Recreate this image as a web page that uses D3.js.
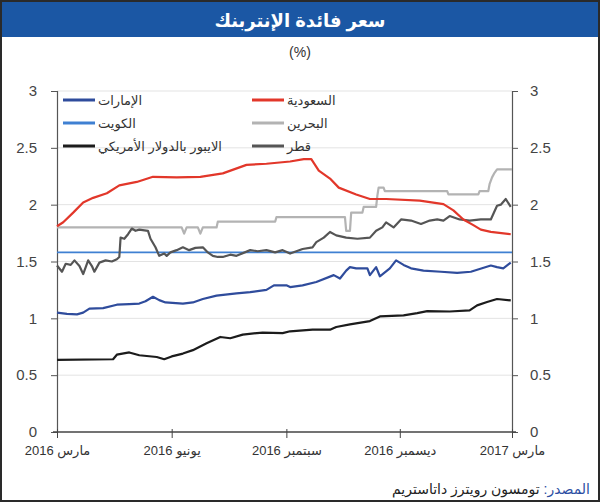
<!DOCTYPE html>
<html>
<head>
<meta charset="utf-8">
<script src="https://cdn.jsdelivr.net/npm/d3@7"></script>
<style>
  body { margin: 0; background: #fff; }
  svg { display: block; font-family: "Liberation Sans", "DejaVu Sans", sans-serif; }
</style>
</head>
<body>
<div id="chart"></div>
<script>
// values, [date, %]
const saudi = [
  ["2016-03-01", 1.81], ["2016-03-06", 1.845], ["2016-03-14", 1.93], ["2016-03-22", 2.02],
  ["2016-03-30", 2.06], ["2016-04-10", 2.10], ["2016-04-20", 2.17], ["2016-05-04", 2.20],
  ["2016-05-17", 2.245], ["2016-06-05", 2.24], ["2016-06-24", 2.245], ["2016-07-12", 2.275],
  ["2016-07-31", 2.35], ["2016-08-16", 2.36], ["2016-09-04", 2.38], ["2016-09-15", 2.40],
  ["2016-09-21", 2.40], ["2016-09-27", 2.30], ["2016-10-06", 2.23], ["2016-10-13", 2.15],
  ["2016-10-27", 2.09], ["2016-11-07", 2.05], ["2016-11-20", 2.05], ["2016-12-17", 2.035],
  ["2017-01-05", 2.005], ["2017-01-13", 1.95], ["2017-01-21", 1.87], ["2017-01-29", 1.82],
  ["2017-02-04", 1.78], ["2017-02-12", 1.76], ["2017-02-28", 1.74]
];
const bahrain = [
  ["2016-03-01", 1.80], ["2016-06-09", 1.80], ["2016-06-11", 1.745], ["2016-06-13", 1.80],
  ["2016-06-22", 1.80], ["2016-06-24", 1.745], ["2016-06-26", 1.80], ["2016-07-07", 1.80],
  ["2016-07-08", 1.85], ["2016-08-23", 1.85], ["2016-08-24", 1.89], ["2016-10-18", 1.89],
  ["2016-10-19", 1.77], ["2016-10-22", 1.77], ["2016-10-23", 1.93], ["2016-11-01", 1.93],
  ["2016-11-02", 1.98], ["2016-11-12", 1.98], ["2016-11-13", 2.08], ["2016-11-14", 2.15],
  ["2016-11-18", 2.15], ["2016-11-19", 2.12], ["2017-01-08", 2.12], ["2017-01-09", 2.09],
  ["2017-02-02", 2.09], ["2017-02-03", 2.12], ["2017-02-10", 2.12], ["2017-02-11", 2.18],
  ["2017-02-13", 2.24], ["2017-02-15", 2.28], ["2017-02-17", 2.31], ["2017-03-01", 2.31]
];
const qatar = [
  ["2016-03-01", 1.465], ["2016-03-05", 1.41], ["2016-03-08", 1.48], ["2016-03-12", 1.47],
  ["2016-03-15", 1.51], ["2016-03-19", 1.46], ["2016-03-22", 1.39], ["2016-03-26", 1.51],
  ["2016-03-29", 1.46], ["2016-03-31", 1.41], ["2016-04-04", 1.49], ["2016-04-09", 1.51],
  ["2016-04-14", 1.50], ["2016-04-18", 1.52], ["2016-04-20", 1.54], ["2016-04-21", 1.71],
  ["2016-04-24", 1.70], ["2016-04-27", 1.74], ["2016-04-30", 1.79], ["2016-05-03", 1.77],
  ["2016-05-06", 1.78], ["2016-05-13", 1.77], ["2016-05-15", 1.70], ["2016-05-19", 1.625],
  ["2016-05-22", 1.55], ["2016-05-26", 1.57], ["2016-05-28", 1.55], ["2016-05-31", 1.58],
  ["2016-06-05", 1.60], ["2016-06-10", 1.625], ["2016-06-15", 1.60], ["2016-06-20", 1.62],
  ["2016-06-26", 1.625], ["2016-06-30", 1.58], ["2016-07-04", 1.55], ["2016-07-08", 1.54],
  ["2016-07-12", 1.54], ["2016-07-18", 1.56], ["2016-07-23", 1.55], ["2016-08-03", 1.60],
  ["2016-08-09", 1.59], ["2016-08-16", 1.60], ["2016-08-23", 1.58], ["2016-08-29", 1.60],
  ["2016-09-04", 1.57], ["2016-09-09", 1.59], ["2016-09-14", 1.61], ["2016-09-22", 1.625],
  ["2016-09-25", 1.67], ["2016-10-01", 1.71], ["2016-10-06", 1.76], ["2016-10-11", 1.73],
  ["2016-10-19", 1.71], ["2016-10-28", 1.70], ["2016-11-07", 1.71], ["2016-11-12", 1.77],
  ["2016-11-17", 1.80], ["2016-11-20", 1.845], ["2016-11-26", 1.80], ["2016-12-02", 1.87],
  ["2016-12-10", 1.86], ["2016-12-18", 1.83], ["2016-12-25", 1.86], ["2016-12-31", 1.87],
  ["2017-01-05", 1.86], ["2017-01-10", 1.90], ["2017-01-18", 1.87], ["2017-01-26", 1.86],
  ["2017-02-04", 1.87], ["2017-02-12", 1.87], ["2017-02-17", 1.99], ["2017-02-20", 2.00],
  ["2017-02-24", 2.05], ["2017-02-28", 1.98]
];
const kuwait = [
  ["2016-03-01", 1.58], ["2017-03-01", 1.58]
];
const uae = [
  ["2016-03-01", 1.05], ["2016-03-09", 1.04], ["2016-03-17", 1.035], ["2016-03-22", 1.05],
  ["2016-03-27", 1.085], ["2016-04-07", 1.09], ["2016-04-18", 1.12], ["2016-04-28", 1.125],
  ["2016-05-06", 1.13], ["2016-05-11", 1.15], ["2016-05-17", 1.19], ["2016-05-22", 1.16],
  ["2016-05-27", 1.14], ["2016-06-10", 1.13], ["2016-06-18", 1.14], ["2016-06-26", 1.17],
  ["2016-07-07", 1.20], ["2016-07-23", 1.22], ["2016-08-03", 1.23], ["2016-08-16", 1.25],
  ["2016-08-22", 1.29], ["2016-09-01", 1.29], ["2016-09-04", 1.275], ["2016-09-14", 1.29],
  ["2016-09-25", 1.32], ["2016-10-09", 1.38], ["2016-10-14", 1.35], ["2016-10-19", 1.42],
  ["2016-10-22", 1.45], ["2016-10-27", 1.44], ["2016-11-05", 1.44], ["2016-11-07", 1.38],
  ["2016-11-12", 1.45], ["2016-11-15", 1.37], ["2016-11-23", 1.44], ["2016-11-28", 1.51],
  ["2016-12-04", 1.47], ["2016-12-10", 1.44], ["2016-12-20", 1.42], ["2017-01-03", 1.41],
  ["2017-01-16", 1.40], ["2017-01-27", 1.41], ["2017-02-12", 1.465], ["2017-02-17", 1.45],
  ["2017-02-22", 1.44], ["2017-02-28", 1.49]
];
const libor = [
  ["2016-03-01", 0.635], ["2016-04-15", 0.64], ["2016-04-18", 0.68], ["2016-04-28", 0.70],
  ["2016-05-06", 0.675], ["2016-05-20", 0.66], ["2016-05-26", 0.64], ["2016-06-01", 0.665],
  ["2016-06-10", 0.69], ["2016-06-18", 0.72], ["2016-06-29", 0.78], ["2016-07-10", 0.836],
  ["2016-07-18", 0.825], ["2016-07-28", 0.857], ["2016-08-13", 0.875], ["2016-08-29", 0.87],
  ["2016-09-04", 0.886], ["2016-09-22", 0.90], ["2016-10-06", 0.90], ["2016-10-11", 0.924],
  ["2016-10-22", 0.947], ["2016-11-07", 0.976], ["2016-11-15", 1.017], ["2016-12-04", 1.026],
  ["2016-12-15", 1.046], ["2016-12-23", 1.064], ["2017-01-10", 1.06], ["2017-01-26", 1.07],
  ["2017-02-01", 1.114], ["2017-02-09", 1.143], ["2017-02-17", 1.17], ["2017-02-28", 1.158]
];

const yTicks = [0, 0.5, 1, 1.5, 2, 2.5, 3];
const xTicks = ["2016-03-01", "2016-06-01", "2016-09-01", "2016-12-01", "2017-03-01"];
const xTickLabels = ["مارس 2016", "يونيو 2016", "سبتمبر 2016", "ديسمبر 2016", "مارس 2017"];

const title = "سعر فائدة الإنتربنك";
const unit = "(%)";
const sourceLabel = "المصدر:";
const sourceText = " تومسون رويترز داتاستريم";

const series = [
  { name: "الإمارات", data: uae, color: "#2f4c9c", width: 2.2 },
  { name: "السعودية", data: saudi, color: "#e2372a", width: 2.2 },
  { name: "الكويت", data: kuwait, color: "#3f80d2", width: 1.6 },
  { name: "البحرين", data: bahrain, color: "#b3b3b3", width: 2.2 },
  { name: "الايبور بالدولار الأمريكي", data: libor, color: "#1c1c1c", width: 2.2 },
  { name: "قطر", data: qatar, color: "#555555", width: 2.2 }
];

const W = 600, H = 503;
const parse = d3.timeParse("%Y-%m-%d");
const plotL = 57, plotR = 512, plotT = 91, plotB = 432;

const svg = d3.select("#chart").append("svg").attr("width", W).attr("height", H);

// frame + title bar
svg.append("rect").attr("x", 1).attr("y", 1).attr("width", W - 2).attr("height", H - 3)
  .attr("fill", "#fff").attr("stroke", "#2a2a2a").attr("stroke-width", 2);
svg.append("rect").attr("x", 2).attr("y", 2).attr("width", W - 4).attr("height", 35).attr("fill", "#1b57a4");
svg.append("text").attr("x", W / 2).attr("y", 27).attr("text-anchor", "middle")
  .attr("font-size", 18).attr("font-weight", "bold").attr("fill", "#fff").text(title);
svg.append("text").attr("x", W / 2).attr("y", 57).attr("text-anchor", "middle")
  .attr("font-size", 14).attr("fill", "#333").text(unit);

let x = d3.scaleTime().domain([parse("2016-03-01"), parse("2017-03-01")]).range([plotL, plotR]);
let y = d3.scaleLinear().domain([0, 3]).range([plotB, plotT]);

// gridlines
svg.append("g").selectAll("line").data(yTicks.filter(d => d > 0)).join("line")
  .attr("x1", plotL).attr("x2", plotR).attr("y1", d => y(d)).attr("y2", d => y(d))
  .attr("stroke", "#e3e3e3").attr("stroke-width", 1);

// y axes
let yl = svg.append("g").attr("transform", `translate(${plotL},0)`)
  .call(d3.axisLeft(y).tickValues(yTicks).tickSize(6).tickPadding(14).tickFormat(d3.format("")));
let yr = svg.append("g").attr("transform", `translate(${plotR},0)`)
  .call(d3.axisRight(y).tickValues(yTicks).tickSize(6).tickPadding(12).tickFormat(d3.format("")));
[yl, yr].forEach(g => {
  g.select(".domain").attr("stroke", "#555").attr("stroke-width", 1.2);
  g.selectAll(".tick line").attr("stroke", "#555");
  g.selectAll(".tick text").attr("font-size", 15).attr("fill", "#444")
    .attr("font-family", "Liberation Sans, DejaVu Sans, sans-serif");
});

// x axis
let xa = svg.append("g").attr("transform", `translate(0,${plotB})`)
  .call(d3.axisBottom(x).tickValues(xTicks.map(parse)).tickSize(6).tickPadding(8)
    .tickFormat((d, i) => xTickLabels[i]));
xa.select(".domain").attr("stroke", "#444").attr("stroke-width", 1.3).attr("d", `M${plotL - 4},0H${plotR + 4}`);
xa.selectAll(".tick line").attr("stroke", "#444").attr("y1", -3);
xa.selectAll(".tick text").attr("font-size", 13).attr("fill", "#333")
  .attr("font-family", "Liberation Sans, DejaVu Sans, sans-serif").attr("direction", "rtl");

// lines
let line = d3.line().x(d => x(parse(d[0]))).y(d => y(d[1]));
const drawOrder = ["الكويت", "الايبور بالدولار الأمريكي", "الإمارات", "البحرين", "قطر", "السعودية"];
drawOrder.forEach(n => {
  let s = series.find(t => t.name === n);
  svg.append("path").datum(s.data).attr("d", line).attr("fill", "none")
    .attr("stroke", s.color).attr("stroke-width", s.width).attr("stroke-linejoin", "round");
});

// legend, two columns
let lg = svg.append("g").selectAll("g").data(series).join("g")
  .attr("transform", (d, i) => `translate(${i % 2 === 0 ? 63 : 252},${100 + Math.floor(i / 2) * 23})`);
lg.append("line").attr("x1", 0).attr("x2", 32).attr("stroke", d => d.color).attr("stroke-width", 3);
lg.append("text").attr("x", 35).attr("dy", "0.35em").attr("font-size", 13).attr("fill", "#333")
  .text(d => d.name);

// source
let src = svg.append("text").attr("x", 590).attr("y", 494).attr("direction", "rtl")
  .attr("text-anchor", "start").attr("font-size", 14).attr("fill", "#222");
src.append("tspan").attr("fill", "#2d4fa3").text(sourceLabel);
src.append("tspan").text(sourceText);
</script>
</body>
</html>
